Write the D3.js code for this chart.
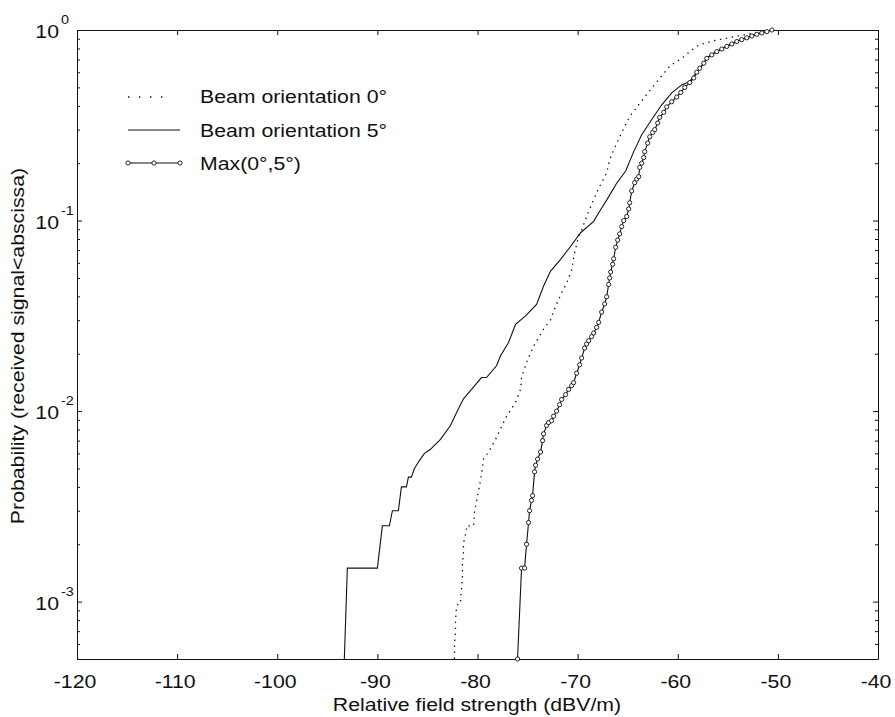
<!DOCTYPE html>
<html><head><meta charset="utf-8">
<script src="https://cdn.jsdelivr.net/npm/d3@7"></script>
<style>
body{margin:0;background:#fff}
text{font-family:"Liberation Sans",Arial,Helvetica,sans-serif;fill:#111}
</style>
</head><body>
<svg id="c" width="895" height="717"></svg>
<script>
// ---------- data ----------
const xTicks = [-120,-110,-100,-90,-80,-70,-60,-50,-40];
const yMajor = [1e-3,1e-2,1e-1,1];
const yExp = ["-3","-2","-1","0"];
const xLabel = "Relative field strength (dBV/m)";
const yLabel = "Probability (received signal<abscissa)";
const legendLabels = ["Beam orientation 0°","Beam orientation 5°","Max(0°,5°)"];

// Beam orientation 0° (dotted)
const beam0 = [
 [-82.3,0.0005],[-82.3,0.00059],[-82.2,0.00069],[-82.2,0.00079],[-82.1,0.00092],[-81.9,0.0010],[-81.7,0.0010],
 [-81.6,0.00117],[-81.5,0.00136],[-81.5,0.00158],[-81.4,0.00182],[-81.4,0.00203],[-81.1,0.00236],[-81.1,0.0025],
 [-80.4,0.0025],[-80.3,0.00295],[-79.8,0.00406],[-79.6,0.00466],[-79.4,0.0056],[-78.9,0.0061],[-78.2,0.0071],
 [-77.1,0.0094],[-76.2,0.0111],[-75.7,0.0130],[-75.6,0.0150],[-75.1,0.0180],[-74.4,0.0219],[-73.4,0.0269],
 [-72.7,0.0302],[-72.2,0.0355],[-71.6,0.0417],[-71.1,0.0468],[-70.6,0.0550],[-70.3,0.0676],[-69.9,0.0830],
 [-69.6,0.0890],[-69.1,0.105],[-68.4,0.129],[-67.8,0.151],[-67.1,0.178],[-66.8,0.209],[-66.4,0.234],
 [-65.8,0.275],[-64.8,0.352],[-63.8,0.412],[-62.8,0.480],[-61.8,0.558],[-60.8,0.646],[-59.4,0.724],
 [-58.8,0.770],[-58.1,0.820],[-57.7,0.840],[-56.1,0.887],[-53.8,0.933],[-52.4,0.962],[-51.1,0.985],[-50.5,1.0]
];

// Beam orientation 5° (solid)
const beam5 = [
 [-93.3,0.0005],[-93.0,0.0015],[-90.0,0.0015],[-89.5,0.0025],[-88.8,0.0025],[-88.5,0.0030],[-87.9,0.0030],
 [-87.6,0.0040],[-87.1,0.0040],[-86.9,0.0045],[-86.6,0.0045],[-86.3,0.0050],[-85.8,0.0055],[-85.3,0.0060],
 [-84.7,0.0063],[-83.7,0.0071],[-82.7,0.0084],[-82.1,0.0098],[-81.4,0.0116],[-80.7,0.0128],[-79.6,0.0150],
 [-79.1,0.0150],[-78.1,0.0173],[-77.7,0.0195],[-76.9,0.0229],[-76.2,0.0285],[-75.2,0.0316],[-74.1,0.0363],
 [-73.4,0.0453],[-72.7,0.0543],[-71.7,0.0625],[-70.7,0.0733],[-69.7,0.0863],[-68.4,0.0990],[-67.8,0.112],
 [-67.1,0.128],[-66.1,0.157],[-65.2,0.182],[-64.4,0.230],[-63.6,0.282],[-62.6,0.339],[-61.6,0.405],
 [-60.6,0.468],[-59.6,0.515],[-58.8,0.537],[-58.1,0.600],[-57.5,0.660],[-57.0,0.720],[-56.2,0.770],
 [-55.2,0.820],[-54.2,0.870],[-53.2,0.910],[-52.2,0.950],[-51.2,0.980],[-50.7,1.0]
];

// Max(0°,5°) (solid with circles)
const maxCurve = [
 [-76.0,0.0005],[-75.6,0.0015],[-75.3,0.0015],[-75.1,0.0020],[-74.9,0.0026],[-74.8,0.0030],[-74.6,0.0034],
 [-74.5,0.0036],[-74.3,0.0048],[-74.2,0.0052],[-74.0,0.0056],[-73.7,0.0061],[-73.5,0.0070],[-73.4,0.0076],
 [-73.1,0.0084],[-72.9,0.0087],[-72.6,0.0089],[-72.4,0.0094],[-72.1,0.0100],[-71.8,0.0108],[-71.6,0.0115],
 [-71.2,0.0122],[-70.9,0.0130],[-70.6,0.0136],[-70.4,0.0141],[-70.1,0.0158],[-69.8,0.0175],[-69.6,0.0190],
 [-69.3,0.0214],[-69.1,0.0225],[-68.9,0.0234],[-68.6,0.0246],[-68.4,0.0257],[-68.1,0.0275],[-67.9,0.0292],
 [-67.6,0.0331],[-67.3,0.0365],[-67.1,0.0398],[-66.9,0.0462],[-66.8,0.0500],[-66.7,0.0537],[-66.5,0.0590],
 [-66.4,0.0630],[-66.2,0.0724],[-66.0,0.0790],[-65.8,0.0851],[-65.6,0.0930],[-65.4,0.1000],[-65.1,0.1050],
 [-64.9,0.1150],[-64.8,0.1240],[-64.6,0.1430],[-64.3,0.1580],[-64.1,0.1650],[-63.9,0.1700],[-63.8,0.1900],
 [-63.6,0.2000],[-63.4,0.2140],[-63.3,0.2300],[-63.0,0.2550],[-62.8,0.2750],[-62.5,0.2900],[-62.3,0.3000],
 [-62.0,0.3250],[-61.8,0.3480],[-61.4,0.3700],[-61.1,0.3950],[-60.6,0.4200],[-60.1,0.4450],[-59.7,0.4700],
 [-59.3,0.5000],[-58.8,0.5300],[-58.4,0.5600],[-58.1,0.6000],[-57.8,0.6300],[-57.4,0.6700],[-57.1,0.7100],
 [-56.6,0.7400],[-56.1,0.7700],[-55.6,0.7950],[-55.1,0.8200],[-54.6,0.8450],[-54.1,0.8700],[-53.6,0.8900],
 [-53.1,0.9100],[-52.6,0.9300],[-52.1,0.9500],[-51.6,0.9650],[-51.1,0.9800],[-50.6,1.0]
];

// ---------- drawing ----------
const svg = d3.select("#c");
const L=77, R=878, T=30, B=659, SX=1.15, FS=18.5;
const x = d3.scaleLinear().domain([-120,-40]).range([L,R]);
const y = d3.scaleLog().domain([5e-4,1]).range([B,T]);
const ink = "#111";

const yMinor = [];
for (let d=-4; d<=-1; d++) for (let k=2;k<=9;k++){ const v=k*Math.pow(10,d); if (v>=5e-4 && v<1) yMinor.push(v); }

function styleAxis(g){ g.selectAll("path,line").attr("stroke",ink).attr("stroke-width",1); g.selectAll("text").remove(); }

svg.append("g").attr("transform",`translate(0,${B})`)
  .call(d3.axisBottom(x).tickValues(xTicks).tickSizeInner(-5).tickSizeOuter(0).tickFormat(""))
  .call(styleAxis);
svg.append("g").attr("transform",`translate(0,${T})`)
  .call(d3.axisTop(x).tickValues(xTicks).tickSizeInner(-5).tickSizeOuter(0).tickFormat(""))
  .call(styleAxis);
svg.append("g").attr("transform",`translate(${L},0)`)
  .call(d3.axisLeft(y).tickValues(yMajor).tickSizeInner(-5).tickSizeOuter(0).tickFormat(""))
  .call(styleAxis);
svg.append("g").attr("transform",`translate(${R},0)`)
  .call(d3.axisRight(y).tickValues(yMajor).tickSizeInner(-5).tickSizeOuter(0).tickFormat(""))
  .call(styleAxis);
svg.append("g").attr("transform",`translate(${L},0)`)
  .call(d3.axisLeft(y).tickValues(yMinor).tickSizeInner(-3).tickSizeOuter(0).tickFormat(""))
  .call(styleAxis).select(".domain").remove();
svg.append("g").attr("transform",`translate(${R},0)`)
  .call(d3.axisRight(y).tickValues(yMinor).tickSizeInner(-3).tickSizeOuter(0).tickFormat(""))
  .call(styleAxis).select(".domain").remove();

// x tick labels
svg.append("g").selectAll("text").data(xTicks).join("text")
  .attr("transform",d=>`translate(${x(d)-2},688) scale(${SX},1)`)
  .attr("text-anchor","middle").style("font-size",FS+"px").text(d=>d);

// y tick labels 10^n
const yl = svg.append("g").selectAll("g").data(yMajor).join("g")
  .attr("transform",d=>`translate(0,${y(d)})`);
yl.append("text").attr("transform",`translate(59,8) scale(${SX},1)`).attr("text-anchor","end")
  .style("font-size",FS+"px").text("10");
yl.append("text").attr("transform",(d,i)=>`translate(61,-6) scale(${SX},1)`)
  .style("font-size","12.5px").text((d,i)=>yExp[i]);

// axis titles
svg.append("text").attr("transform",`translate(477,711) scale(${SX},1)`).attr("text-anchor","middle")
  .style("font-size",FS+"px").text(xLabel);
svg.append("text").attr("transform",`translate(24,346) rotate(-90) scale(${SX},1)`).attr("text-anchor","middle")
  .style("font-size",FS+"px").text(yLabel);

// curves
const clip = svg.append("clipPath").attr("id","pc").append("rect").attr("x",L).attr("y",T).attr("width",R-L).attr("height",B-T);
const line = d3.line().x(d=>x(d[0])).y(d=>y(d[1]));
const plot = svg.append("g").attr("clip-path","url(#pc)");
plot.append("path").datum(beam0).attr("d",line).attr("fill","none").attr("stroke",ink)
  .attr("stroke-width",1.3).attr("stroke-dasharray","1.4,4.6");
plot.append("path").datum(beam5).attr("d",line).attr("fill","none").attr("stroke",ink).attr("stroke-width",1.1);
plot.append("path").datum(maxCurve).attr("d",line).attr("fill","none").attr("stroke",ink).attr("stroke-width",1.1);
svg.append("g").selectAll("circle").data(maxCurve).join("circle")
  .attr("cx",d=>x(d[0])).attr("cy",d=>y(d[1])).attr("r",2.1)
  .attr("fill","#fff").attr("stroke",ink).attr("stroke-width",0.9);

// legend
const lg = svg.append("g");
const legY = [97,130,163], legTY=[103,137,170];
lg.append("line").attr("x1",128).attr("x2",172).attr("y1",legY[0]).attr("y2",legY[0])
  .attr("stroke",ink).attr("stroke-width",1.3).attr("stroke-dasharray","1.4,9.6");
lg.append("line").attr("x1",128).attr("x2",180).attr("y1",legY[1]).attr("y2",legY[1]).attr("stroke",ink).attr("stroke-width",1.1);
lg.append("line").attr("x1",128).attr("x2",180).attr("y1",legY[2]).attr("y2",legY[2]).attr("stroke",ink).attr("stroke-width",1.1);
lg.selectAll("circle").data([128,154,180]).join("circle").attr("cx",d=>d).attr("cy",legY[2]).attr("r",2.1)
  .attr("fill","#fff").attr("stroke",ink).attr("stroke-width",0.9);
lg.selectAll("text").data(legendLabels).join("text")
  .attr("transform",(d,i)=>`translate(200,${legTY[i]}) scale(${SX},1)`)
  .style("font-size",FS+"px").text(d=>d);
</script>
</body></html>
